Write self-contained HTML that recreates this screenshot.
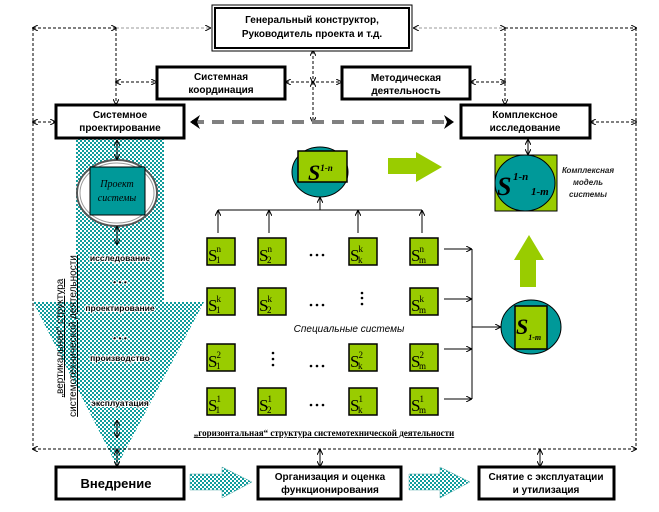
<!DOCTYPE html>
<html><head><meta charset="utf-8"><style>
body{margin:0;background:#fff}
svg{font-family:"Liberation Sans",sans-serif}
</style></head><body>
<svg width="659" height="507" viewBox="0 0 659 507" xmlns="http://www.w3.org/2000/svg" font-family="Liberation Sans, sans-serif">
<defs>
<pattern id="ck" width="4" height="4" patternUnits="userSpaceOnUse">
<rect width="4" height="4" fill="#fff"/><rect width="2" height="2" fill="#109c9c"/><rect x="2" y="2" width="2" height="2" fill="#109c9c"/>
</pattern>
<marker id="a" markerWidth="6" markerHeight="6" refX="5" refY="3" orient="auto-start-reverse" markerUnits="userSpaceOnUse"><path d="M0,0 L6,3 L0,6" fill="none" stroke="#000" stroke-width="1"/></marker>
<marker id="g" markerWidth="14" markerHeight="14" refX="8" refY="7" orient="auto-start-reverse" markerUnits="userSpaceOnUse"><path d="M0,0 L10,7 L0,14 L3,7z" fill="#000"/></marker>
</defs>
<rect x="76" y="139" width="88" height="164" fill="url(#ck)"/>
<polygon points="33,302 204,302 117,466" fill="url(#ck)"/>
<g stroke="#000" stroke-width="1" stroke-dasharray="3,2" fill="none">
<line x1="33" y1="28" x2="116" y2="28" marker-start="url(#a)" marker-end="url(#a)"/>
<line x1="116" y1="28" x2="210" y2="28" stroke="#999" marker-end="url(#a)"/>
<line x1="414" y1="28" x2="505" y2="28" stroke="#999" marker-start="url(#a)" marker-end="url(#a)"/>
<line x1="505" y1="28" x2="636" y2="28" marker-end="url(#a)"/>
<line x1="33" y1="28" x2="33" y2="449"/>
<line x1="636" y1="28" x2="636" y2="449"/>
<line x1="33" y1="449" x2="636" y2="449" marker-start="url(#a)" marker-end="url(#a)"/>
<line x1="116" y1="28" x2="116" y2="104" marker-end="url(#a)"/>
<line x1="505" y1="28" x2="505" y2="104" marker-end="url(#a)"/>
<line x1="313" y1="51" x2="313" y2="82" marker-start="url(#a)" marker-end="url(#a)"/>
<line x1="313" y1="82" x2="313" y2="122" marker-start="url(#a)" marker-end="url(#a)"/>
<line x1="116" y1="82" x2="156" y2="82" marker-start="url(#a)" marker-end="url(#a)"/>
<line x1="286" y1="82" x2="341" y2="82" marker-start="url(#a)" marker-end="url(#a)"/>
<line x1="471" y1="82" x2="505" y2="82" marker-start="url(#a)" marker-end="url(#a)"/>
<line x1="33" y1="122" x2="55" y2="122" marker-start="url(#a)" marker-end="url(#a)"/>
<line x1="591" y1="122" x2="636" y2="122" marker-start="url(#a)" marker-end="url(#a)"/>
</g>
<rect x="212" y="5" width="200" height="46" fill="#fff" stroke="#000" stroke-width="1"/>
<rect x="215" y="8" width="194" height="40" fill="none" stroke="#000" stroke-width="2"/>
<text x="312" y="23" font-size="10" font-weight="bold" text-anchor="middle">Генеральный конструктор,</text>
<text x="312" y="37" font-size="10" font-weight="bold" text-anchor="middle">Руководитель проекта и т.д.</text>
<g fill="#fff" stroke="#000" stroke-width="3">
<rect x="157" y="67" width="128" height="32"/>
<rect x="342" y="67" width="128" height="32"/>
<rect x="56" y="105" width="128" height="33"/>
<rect x="461" y="105" width="129" height="33"/>
<rect x="56" y="467" width="128" height="32"/>
<rect x="258" y="467" width="143" height="32"/>
<rect x="479" y="467" width="135" height="32"/>
</g>
<g font-size="10" font-weight="bold" text-anchor="middle">
<text x="221" y="80">Системная</text><text x="221" y="93">координация</text>
<text x="406" y="81">Методическая</text><text x="406" y="94">деятельность</text>
<text x="120" y="118">Системное</text><text x="120" y="131">проектирование</text>
<text x="525" y="118">Комплексное</text><text x="525" y="131">исследование</text>
<text x="116" y="488" font-size="13">Внедрение</text>
<text x="330" y="480">Организация и оценка</text><text x="330" y="493">функционирования</text>
<text x="546" y="480">Снятие с эксплуатации</text><text x="546" y="493">и утилизация</text>
</g>
<line x1="192" y1="122" x2="452" y2="122" stroke="#808080" stroke-width="4" stroke-dasharray="12,8" marker-start="url(#g)" marker-end="url(#g)"/>
<ellipse cx="117" cy="193" rx="40" ry="33" fill="#fff" stroke="#555" stroke-width="2"/>
<ellipse cx="117" cy="193" rx="37" ry="30" fill="#fff" stroke="#999" stroke-width="1"/>
<rect x="90" y="167" width="55" height="48" fill="#009999" stroke="#000"/>
<g font-family="Liberation Serif, serif" font-style="italic" font-size="10" text-anchor="middle">
<text x="117" y="187">Проект</text>
<text x="117" y="201">системы</text>
</g>
<g stroke="#000" fill="none">
<line x1="117" y1="141" x2="117" y2="159" marker-start="url(#a)" marker-end="url(#a)"/>
<line x1="117" y1="227" x2="117" y2="244" marker-start="url(#a)" marker-end="url(#a)"/>
<line x1="117" y1="421" x2="117" y2="437" marker-start="url(#a)" marker-end="url(#a)"/>
<line x1="117" y1="450" x2="117" y2="466" marker-start="url(#a)" marker-end="url(#a)"/>
<line x1="320" y1="450" x2="320" y2="466" marker-start="url(#a)" marker-end="url(#a)"/>
<line x1="540" y1="450" x2="540" y2="466" marker-start="url(#a)" marker-end="url(#a)"/>
<line x1="528" y1="140" x2="528" y2="154" marker-start="url(#a)" marker-end="url(#a)"/>
</g>
<g font-size="8.5" font-weight="bold" text-anchor="middle" stroke="#fff" stroke-width="2" paint-order="stroke">
<text x="120" y="261">исследование</text>
<text x="120" y="285">• • •</text>
<text x="120" y="311">проектирование</text>
<text x="120" y="341">• • •</text>
<text x="120" y="361">производство</text>
<text x="120" y="406">эксплуатация</text>
</g>
<text transform="translate(63,338) rotate(-90)" font-size="10" text-anchor="middle" text-decoration="underline">„вертикальная“ структура</text>
<text transform="translate(76,336) rotate(-90)" font-size="10" text-anchor="middle" text-decoration="underline">системотехнической деятельности</text>
<ellipse cx="320" cy="172" rx="28" ry="25" fill="#009999" stroke="#000"/>
<rect x="298" y="151" width="49" height="31" fill="#99cc00" stroke="#000" stroke-width="1.5"/>
<g font-family="Liberation Serif, serif" font-style="italic" font-weight="bold">
<text x="308" y="180" font-size="22">S<tspan font-size="9" dy="-9">1-n</tspan></text>
</g>
<polygon points="388,158 416,158 416,152 442,167 416,182 416,174 388,174" fill="#99cc00"/>
<rect x="495" y="155" width="62" height="56" fill="#99cc00" stroke="#000"/>
<ellipse cx="525" cy="183" rx="30" ry="28" fill="#009999" stroke="#000"/>
<g font-family="Liberation Serif, serif" font-style="italic" font-weight="bold">
<text x="497" y="195" font-size="26">S</text>
<text x="513" y="180" font-size="11">1-n</text>
<text x="531" y="195" font-size="11">1-m</text>
</g>
<g font-size="8" font-style="italic" font-weight="bold" text-anchor="middle" fill="#222">
<text x="588" y="173">Комплексная</text><text x="588" y="185">модель</text><text x="588" y="197">системы</text>
</g>
<g stroke="#000" fill="none">
<line x1="320" y1="210" x2="320" y2="198" marker-end="url(#a)"/>
<line x1="218" y1="210" x2="422" y2="210"/>
<line x1="218" y1="233" x2="218" y2="211" marker-end="url(#a)"/>
<line x1="269" y1="233" x2="269" y2="211" marker-end="url(#a)"/>
<line x1="358" y1="233" x2="358" y2="211" marker-end="url(#a)"/>
<line x1="422" y1="233" x2="422" y2="211" marker-end="url(#a)"/>
<line x1="444" y1="249" x2="471" y2="249" marker-end="url(#a)"/>
<line x1="444" y1="299" x2="471" y2="299" marker-end="url(#a)"/>
<line x1="444" y1="349" x2="471" y2="349" marker-end="url(#a)"/>
<line x1="444" y1="399" x2="471" y2="399" marker-end="url(#a)"/>
<line x1="472" y1="249" x2="472" y2="399"/>
<line x1="472" y1="327" x2="500" y2="327" marker-end="url(#a)"/>
</g>
<g fill="#99cc00" stroke="#000" stroke-width="1.5">
<rect x="207" y="238" width="28" height="27"/><rect x="258" y="238" width="28" height="27"/><rect x="349" y="238" width="28" height="27"/><rect x="410" y="238" width="28" height="27"/>
<rect x="207" y="288" width="28" height="27"/><rect x="258" y="288" width="28" height="27"/><rect x="410" y="288" width="28" height="27"/>
<rect x="207" y="344" width="28" height="27"/><rect x="349" y="344" width="28" height="27"/><rect x="410" y="344" width="28" height="27"/>
<rect x="207" y="388" width="28" height="27"/><rect x="258" y="388" width="28" height="27"/><rect x="349" y="388" width="28" height="27"/><rect x="410" y="388" width="28" height="27"/>
</g>
<g font-size="17" font-family="Liberation Serif, serif">
<text x="208" y="261">S<tspan font-size="9" dx="-1" dy="-9">n</tspan><tspan font-size="9" dx="-5" dy="11">1</tspan></text>
<text x="259" y="261">S<tspan font-size="9" dx="-1" dy="-9">n</tspan><tspan font-size="9" dx="-5" dy="11">2</tspan></text>
<text x="350" y="261">S<tspan font-size="9" dx="-1" dy="-9">k</tspan><tspan font-size="9" dx="-5" dy="11">k</tspan></text>
<text x="411" y="261">S<tspan font-size="9" dx="-1" dy="-9">n</tspan><tspan font-size="9" dx="-5" dy="11">m</tspan></text>
<text x="208" y="311">S<tspan font-size="9" dx="-1" dy="-9">k</tspan><tspan font-size="9" dx="-5" dy="11">1</tspan></text>
<text x="259" y="311">S<tspan font-size="9" dx="-1" dy="-9">k</tspan><tspan font-size="9" dx="-5" dy="11">2</tspan></text>
<text x="411" y="311">S<tspan font-size="9" dx="-1" dy="-9">k</tspan><tspan font-size="9" dx="-5" dy="11">m</tspan></text>
<text x="208" y="367">S<tspan font-size="9" dx="-1" dy="-9">2</tspan><tspan font-size="9" dx="-5" dy="11">1</tspan></text>
<text x="350" y="367">S<tspan font-size="9" dx="-1" dy="-9">2</tspan><tspan font-size="9" dx="-5" dy="11">k</tspan></text>
<text x="411" y="367">S<tspan font-size="9" dx="-1" dy="-9">2</tspan><tspan font-size="9" dx="-5" dy="11">m</tspan></text>
<text x="208" y="411">S<tspan font-size="9" dx="-1" dy="-9">1</tspan><tspan font-size="9" dx="-5" dy="11">1</tspan></text>
<text x="259" y="411">S<tspan font-size="9" dx="-1" dy="-9">1</tspan><tspan font-size="9" dx="-5" dy="11">2</tspan></text>
<text x="350" y="411">S<tspan font-size="9" dx="-1" dy="-9">1</tspan><tspan font-size="9" dx="-5" dy="11">k</tspan></text>
<text x="411" y="411">S<tspan font-size="9" dx="-1" dy="-9">1</tspan><tspan font-size="9" dx="-5" dy="11">m</tspan></text>
</g>
<g fill="#000">
<circle cx="311" cy="255" r="1.3"/><circle cx="317" cy="255" r="1.3"/><circle cx="323" cy="255" r="1.3"/>
<circle cx="311" cy="305" r="1.3"/><circle cx="317" cy="305" r="1.3"/><circle cx="323" cy="305" r="1.3"/>
<circle cx="311" cy="366" r="1.3"/><circle cx="317" cy="366" r="1.3"/><circle cx="323" cy="366" r="1.3"/>
<circle cx="311" cy="405" r="1.3"/><circle cx="317" cy="405" r="1.3"/><circle cx="323" cy="405" r="1.3"/>
<circle cx="362" cy="293" r="1.3"/><circle cx="362" cy="298" r="1.3"/><circle cx="362" cy="304" r="1.3"/>
<circle cx="273" cy="353" r="1.3"/><circle cx="273" cy="359" r="1.3"/><circle cx="273" cy="365" r="1.3"/>
</g>
<text x="349" y="332" font-size="10" font-style="italic" text-anchor="middle">Специальные системы</text>
<text x="324" y="436" font-size="9" font-weight="bold" text-anchor="middle" text-decoration="underline" font-family="Liberation Serif, serif">„горизонтальная“ структура системотехнической деятельности</text>
<polygon points="520,287 536,287 536,260 544,260 529,235 514,260 520,260" fill="#99cc00"/>
<ellipse cx="531" cy="327" rx="30" ry="27" fill="#009999" stroke="#000"/>
<rect x="515" y="306" width="32" height="43" fill="#99cc00" stroke="#000" stroke-width="1.5"/>
<text x="516" y="334" font-size="22" font-style="italic" font-weight="bold" font-family="Liberation Serif, serif">S<tspan font-size="8" dy="6">1-m</tspan></text>
<polygon points="190,474 222,474 222,467 252,482 222,498 222,490 190,490" fill="url(#ck)" stroke="#5aa" stroke-width="0.5"/>
<polygon points="409,474 440,474 440,467 470,482 440,498 440,490 409,490" fill="url(#ck)" stroke="#5aa" stroke-width="0.5"/>
</svg>
</body></html>
